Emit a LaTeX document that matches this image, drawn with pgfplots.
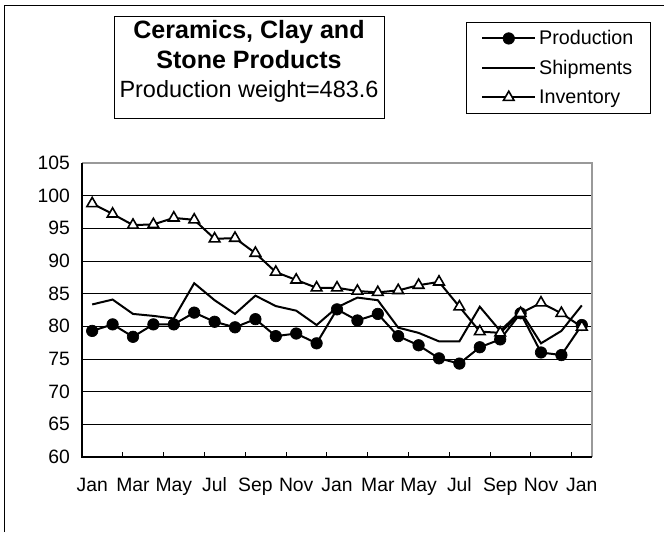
\documentclass[border=0pt]{standalone}
\usepackage{fontspec}
\setmainfont{Liberation Sans}
\usepackage{pgfplots}
\pgfplotsset{compat=1.18}
\usepackage{pgfplotstable}

% columns: month index, production, shipments, inventory
\pgfplotstableread{
idx prod ship inv
0  79.3  83.35 98.8
1  80.3  84.1  97.2
2  78.4  81.9  95.5
3  80.3  81.6  95.6
4  80.3  81.2  96.6
5  82.1  86.6  96.3
6  80.7  84.0  93.4
7  79.85 81.9  93.5
8  81.1  84.7  91.2
9  78.5  83.1  88.3
10 78.9  82.4  87.1
11 77.4  80.2  85.9
12 82.6  82.9  85.9
13 80.9  84.4  85.4
14 81.9  84.0  85.2
15 78.5  79.8  85.5
16 77.1  79.0  86.3
17 75.1  77.7  86.8
18 74.3  77.7  83.0
19 76.8  83.0  79.2
20 78.0  79.3  79.0
21 82.0  82.3  82.0
22 76.0  77.4  83.6
23 75.6  79.3  82.0
24 80.2  83.2  79.9
}\datatable

\begin{document}
\begin{tikzpicture}
\useasboundingbox (0,0) rectangle (498pt,-399pt);
% outer chart frame
\draw[line width=0.75pt] (3pt,-399pt) -- (3pt,-3.75pt) -- (498pt,-3.75pt);

% title box
\draw[line width=0.6pt] (85.5pt,-12pt) rectangle (288pt,-88.5pt);
\node[anchor=base, inner sep=0pt, font=\fontsize{18.8}{20}\selectfont\bfseries] at (186.75pt,-28.8pt) {Ceramics, Clay and};
\node[anchor=base, inner sep=0pt, font=\fontsize{18.8}{20}\selectfont\bfseries] at (186.75pt,-51.3pt) {Stone Products};
\node[anchor=base, inner sep=0pt, font=\fontsize{17.6}{19}\selectfont] at (186.75pt,-73pt) {Production weight=483.6};

\begin{axis}[
  at={(61.5pt,-342.75pt)}, anchor=south west,
  scale only axis, width=382.5pt, height=220.5pt,
  xmin=-0.5, xmax=24.5, ymin=60, ymax=105,
  axis line style={draw=none},
  ytick={60,65,...,105}, ymajorgrids,
  major grid style={black, line width=0.5pt},
  ytick style={draw=none},
  yticklabel style={xshift=-5.5pt},
  xtick={0,2,...,24},
  xticklabels={Jan,Mar,May,Jul,Sep,Nov,Jan,Mar,May,Jul,Sep,Nov,Jan},
  xtick style={draw=none},
  xticklabel style={yshift=-12pt, text height=10.5pt, text depth=3pt},
  extra x ticks={1.5,3.5,...,23.5},
  extra x tick labels={},
  extra x tick style={xtick style={draw=black, line width=0.6pt}, major tick length=3.75pt, tick align=inside, xtick pos=bottom},
  tick label style={font=\fontsize{14.5}{16}\selectfont},
  /pgf/number format/assume math mode=true,
  legend style={at={(0.753,1.48)}, anchor=north west, draw=black, line width=0.6pt,
    font=\fontsize{14.8}{17}\selectfont, inner xsep=11pt, inner ysep=4pt,
    row sep=6pt, legend cell align=left},
  legend image code/.code={\draw[#1, mark repeat=2, mark phase=2] plot coordinates {(0pt,0pt) (20pt,0pt) (40pt,0pt)};},
  clip=false,
]
\addplot[black, line width=1.5pt, mark=*, mark size=4.3pt, mark options={fill=black, line width=0.5pt}]
  table[x=idx, y=prod] {\datatable};
\addlegendentry{Production}
\addplot[black, line width=1.5pt, no marks]
  table[x=idx, y=ship] {\datatable};
\addlegendentry{Shipments}
\addplot[black, line width=1.5pt, mark=triangle*, mark size=4.6pt, mark options={fill=white, line width=1.2pt}]
  table[x=idx, y=inv] {\datatable};
\addlegendentry{Inventory}
% plot area border: gray top/right, black left/bottom
\draw[gray!80, line width=1.2pt] (rel axis cs:0,1) -- (rel axis cs:1,1) -- (rel axis cs:1,0);
\draw[black, line width=1.2pt] (rel axis cs:0,1) -- (rel axis cs:0,0) -- (rel axis cs:1,0);
\end{axis}
\end{tikzpicture}
\end{document}
